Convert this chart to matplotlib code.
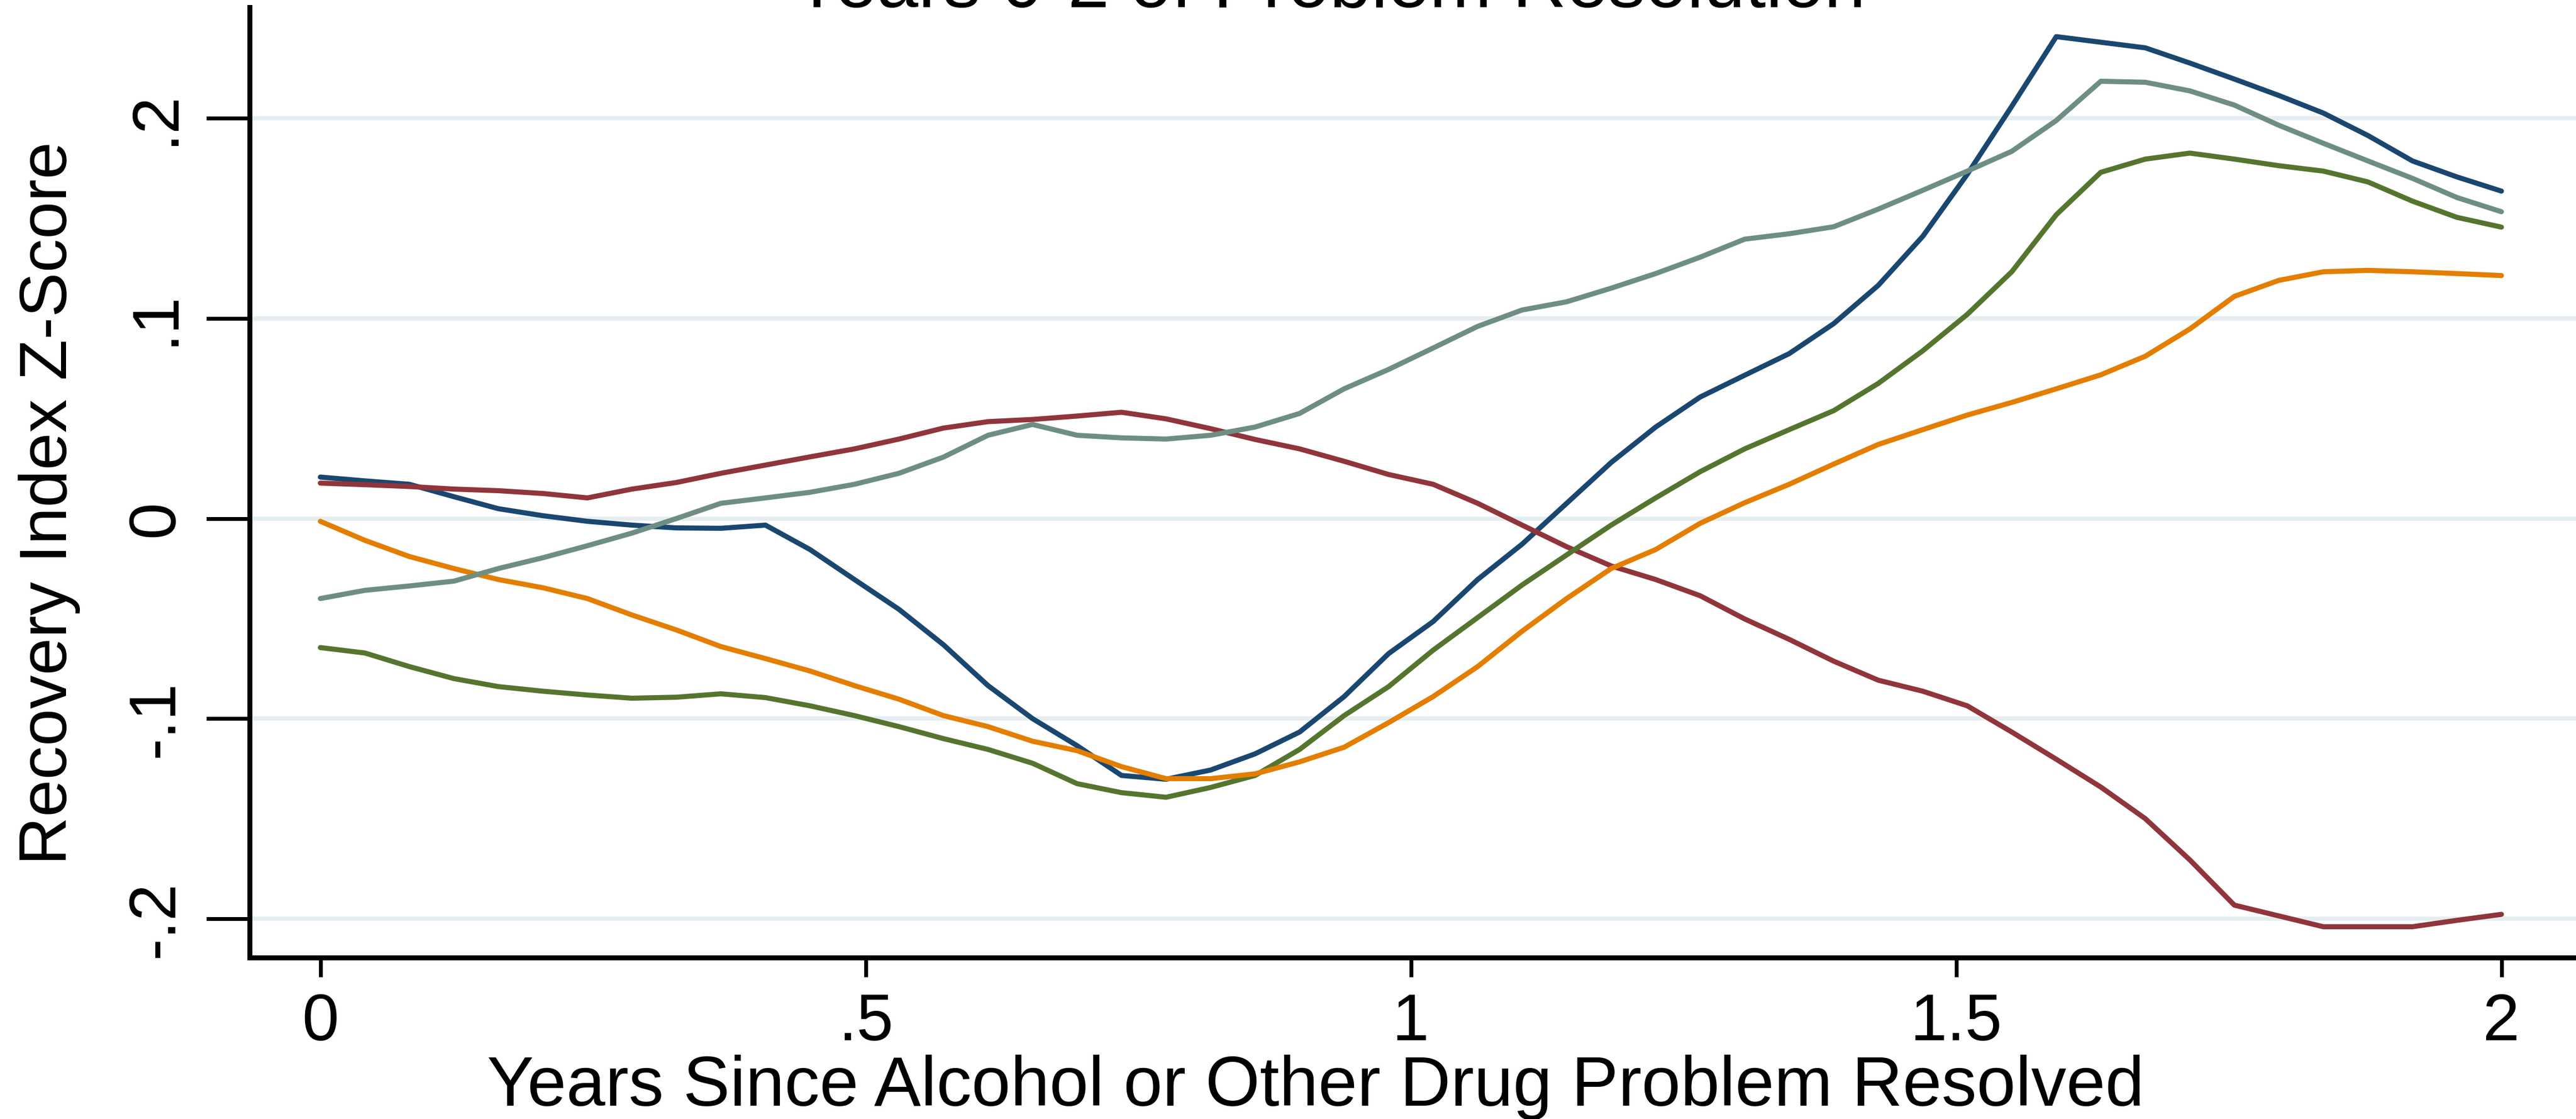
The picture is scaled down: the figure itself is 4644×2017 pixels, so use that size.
import numpy as np
import matplotlib
matplotlib.use("Agg")
import matplotlib.pyplot as plt

# Time since resolution (years), evenly spaced grid of estimates
years = np.linspace(0, 2, 50)

navy_series = [0.0207, 0.0188, 0.0171, 0.0109, 0.0049, 0.0014, -0.0014, -0.0033, -0.0047, -0.0049,
               -0.0033, -0.0155, -0.0305, -0.0454, -0.0631, -0.0835, -0.1000, -0.1135, -0.1284, -0.1303,
               -0.1257, -0.1176, -0.1067, -0.0890, -0.0675, -0.0515, -0.0305, -0.0128, 0.0076, 0.0280,
               0.0457, 0.0607, 0.0716, 0.0824, 0.0974, 0.1165, 0.1410, 0.1720, 0.2060, 0.2408,
               0.2380, 0.2352, 0.2276, 0.2196, 0.2114, 0.2026, 0.1914, 0.1787, 0.1707, 0.1636]

maroon_series = [0.0177, 0.0169, 0.0160, 0.0147, 0.0139, 0.0125, 0.0103, 0.0147, 0.0180, 0.0226,
                 0.0267, 0.0308, 0.0348, 0.0397, 0.0452, 0.0484, 0.0495, 0.0512, 0.0531, 0.0498,
                 0.0449, 0.0395, 0.0348, 0.0286, 0.0220, 0.0171, 0.0076, -0.0033, -0.0141, -0.0237,
                 -0.0305, -0.0386, -0.0502, -0.0604, -0.0713, -0.0808, -0.0863, -0.0936, -0.1067, -0.1203,
                 -0.1342, -0.1500, -0.1706, -0.1932, -0.1986, -0.2040, -0.2040, -0.2040, -0.2008, -0.1978]

green_series = [-0.0645, -0.0672, -0.0740, -0.0800, -0.0840, -0.0863, -0.0882, -0.0898, -0.0893, -0.0876,
                -0.0895, -0.0936, -0.0985, -0.1040, -0.1100, -0.1154, -0.1223, -0.1325, -0.1370, -0.1393,
                -0.1344, -0.1284, -0.1154, -0.0985, -0.0840, -0.0658, -0.0495, -0.0332, -0.0182, -0.0033,
                0.0103, 0.0234, 0.0348, 0.0444, 0.0539, 0.0675, 0.0838, 0.1020, 0.1233, 0.1518,
                0.1730, 0.1796, 0.1826, 0.1796, 0.1763, 0.1736, 0.1682, 0.1586, 0.1505, 0.1456]

orange_series = [-0.0014, -0.0109, -0.0190, -0.0250, -0.0305, -0.0346, -0.0400, -0.0482, -0.0557, -0.0640,
                 -0.0700, -0.0762, -0.0835, -0.0903, -0.0985, -0.1040, -0.1113, -0.1160, -0.1240, -0.1300,
                 -0.1300, -0.1276, -0.1216, -0.1143, -0.1020, -0.0890, -0.0740, -0.0563, -0.0400, -0.0250,
                 -0.0155, -0.0024, 0.0079, 0.0171, 0.0272, 0.0370, 0.0444, 0.0517, 0.0580, 0.0648,
                 0.0718, 0.0811, 0.0947, 0.1110, 0.1190, 0.1233, 0.1240, 0.1233, 0.1224, 0.1214]

teal_series = [-0.0400, -0.0359, -0.0337, -0.0313, -0.0250, -0.0196, -0.0136, -0.0073, 0.0000, 0.0076,
               0.0103, 0.0131, 0.0171, 0.0226, 0.0307, 0.0416, 0.0470, 0.0416, 0.0403, 0.0397,
               0.0416, 0.0457, 0.0525, 0.0648, 0.0745, 0.0852, 0.0960, 0.1042, 0.1083, 0.1151,
               0.1224, 0.1306, 0.1396, 0.1423, 0.1458, 0.1546, 0.1640, 0.1736, 0.1835, 0.1989,
               0.2185, 0.2180, 0.2137, 0.2066, 0.1965, 0.1875, 0.1787, 0.1700, 0.1604, 0.1533]

x_ticks = [0, 0.5, 1, 1.5, 2]
x_tick_labels = ["0", ".5", "1", "1.5", "2"]
y_ticks = [-0.2, -0.1, 0, 0.1, 0.2]
y_tick_labels = ["-.2", "-.1", "0", ".1", ".2"]

chart_title = "Years 0-2 of Problem Resolution"
x_title = "Years Since Alcohol or Other Drug Problem Resolved"
y_title = "Recovery Index Z-Score"

plt.rcParams["font.family"] = ["Liberation Sans", "DejaVu Sans"]

W, H = 4644, 2017
fig = plt.figure(figsize=(W / 100, H / 100), dpi=100)
fig.patch.set_facecolor("white")

# Plot region (pixel geometry of the frame)
left_px, right_px, top_px, bottom_px = 449.6, 4644, 13, 1726
ax = fig.add_axes([left_px / W, (H - bottom_px) / H,
                   (right_px - left_px) / W, (bottom_px - top_px) / H])
ax.set_facecolor("white")

series = [
    (navy_series, "#1A476F"),
    (maroon_series, "#90353B"),
    (green_series, "#55752F"),
    (orange_series, "#E37E00"),
    (teal_series, "#6E8E84"),
]
for values, color in series:
    ax.plot(years, values, color=color, linewidth=6.6,
            solid_capstyle="round", solid_joinstyle="round", zorder=3)

ax.set_xlim(-0.06506, 2.0684)
ax.set_ylim(-0.2194, 0.2555)

ax.set_xticks(x_ticks)
ax.set_xticklabels(x_tick_labels)
ax.set_yticks(y_ticks)
ax.set_yticklabels(y_tick_labels, rotation=90, va="center", ha="right")

ax.tick_params(axis="x", length=25, width=5, pad=20, labelsize=86, direction="out")
ax.tick_params(axis="y", length=56, width=5, pad=25, labelsize=86, direction="out")

ax.yaxis.grid(True, color="#E6EDF0", linewidth=5.5)
ax.xaxis.grid(False)
ax.set_axisbelow(True)

for side in ("top", "right"):
    ax.spines[side].set_visible(False)
for side in ("left", "bottom"):
    ax.spines[side].set_linewidth(6.5)
    ax.spines[side].set_color("black")

ax.set_xlabel(x_title, fontsize=91)
ax.xaxis.label.set_verticalalignment("baseline")
ax.xaxis.set_label_coords(2372 / W, (H - 1993) / H, transform=fig.transFigure)

ax.set_ylabel(y_title, fontsize=87)
ax.yaxis.label.set_verticalalignment("baseline")
ax.yaxis.set_label_coords(120 / W, (H - 907) / H, transform=fig.transFigure)

fig.text(2396 / W, (H - 12) / H, chart_title, fontsize=97,
         ha="center", va="baseline")

fig.savefig("out.png", dpi=100, facecolor="white")
